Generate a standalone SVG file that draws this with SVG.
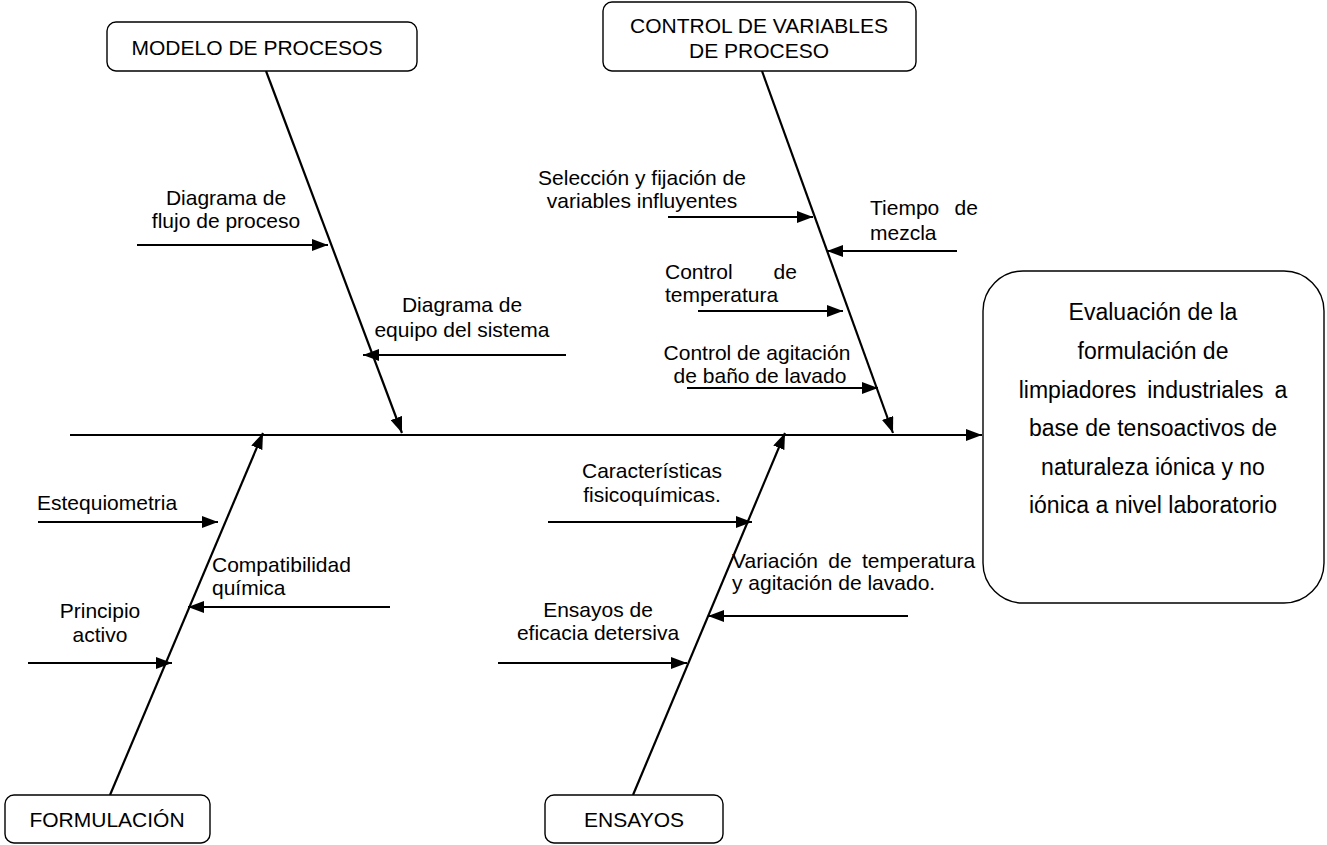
<svg xmlns="http://www.w3.org/2000/svg" width="1327" height="845" viewBox="0 0 1327 845">
  <defs>
    <style>
      text { font-family: "Liberation Sans", Arial, sans-serif; font-size: 21px; fill: #000; }
      .box { fill: #fff; stroke: #000; stroke-width: 1.4; }
      .bone { stroke: #000; stroke-width: 2.2; fill: none; }
      .mid { text-anchor: middle; }
      .effect text { font-size: 23px; }
    </style>
    <marker id="head" viewBox="0 0 16 12" refX="16" refY="6" markerWidth="16" markerHeight="12" markerUnits="userSpaceOnUse" orient="auto">
      <path d="M0,0 L16,6 L0,12 z" fill="#000"/>
    </marker>
  </defs>
  <rect width="1327" height="845" fill="#fff"/>

  <!-- spine, main bones and sub-cause arrows -->
  <g id="connectors" class="bone" marker-end="url(#head)">
    <line x1="70" y1="435" x2="982" y2="435"/>
    <line x1="266" y1="71" x2="402" y2="433"/>
    <line x1="762" y1="71" x2="893" y2="433"/>
    <line x1="110" y1="795" x2="263" y2="433"/>
    <line x1="633" y1="795" x2="785" y2="433"/>
    <!-- modelo de procesos -->
    <line x1="137" y1="245" x2="328" y2="245"/>
    <line x1="566" y1="355" x2="363" y2="355"/>
    <!-- control de variables -->
    <line x1="668" y1="217" x2="813" y2="217"/>
    <line x1="957" y1="251" x2="827" y2="251"/>
    <line x1="698" y1="311" x2="843" y2="311"/>
    <line x1="687" y1="388" x2="878" y2="388"/>
    <!-- formulación -->
    <line x1="38" y1="522" x2="218" y2="522"/>
    <line x1="390" y1="607" x2="188" y2="607"/>
    <line x1="28" y1="663" x2="172" y2="663"/>
    <!-- ensayos -->
    <line x1="548" y1="522" x2="752" y2="522"/>
    <line x1="908" y1="616" x2="708" y2="616"/>
    <line x1="498" y1="663" x2="687" y2="663"/>
  </g>

  <!-- category boxes -->
  <g id="modelo-procesos">
    <rect class="box" x="107" y="22" width="310" height="49" rx="9"/>
    <text class="mid" x="257" y="55">MODELO DE PROCESOS</text>
  </g>
  <g id="control-variables">
    <rect class="box" x="603" y="2" width="313" height="69" rx="9"/>
    <text class="mid" x="759" y="33">CONTROL DE VARIABLES</text>
    <text class="mid" x="759" y="58">DE PROCESO</text>
  </g>
  <g id="formulacion">
    <rect class="box" x="5" y="795" width="205" height="48" rx="9"/>
    <text class="mid" x="107" y="827">FORMULACIÓN</text>
  </g>
  <g id="ensayos">
    <rect class="box" x="545" y="795" width="178" height="48" rx="9"/>
    <text class="mid" x="634" y="827">ENSAYOS</text>
  </g>

  <!-- effect -->
  <g id="efecto" class="effect">
    <rect class="box" x="983" y="271" width="341" height="332" rx="40"/>
    <text class="mid" x="1153" y="320">Evaluación de la</text>
    <text class="mid" x="1153" y="359">formulación de</text>
    <text class="mid" x="1153" y="398" word-spacing="4.5">limpiadores industriales a</text>
    <text class="mid" x="1153" y="436">base de tensoactivos de</text>
    <text class="mid" x="1153" y="475">naturaleza iónica y no</text>
    <text class="mid" x="1153" y="513">iónica a nivel laboratorio</text>
  </g>

  <!-- cause labels -->
  <g id="causa-flujo">
    <text class="mid" x="226" y="205">Diagrama de</text>
    <text class="mid" x="226" y="228">flujo de proceso</text>
  </g>
  <g id="causa-equipo">
    <text class="mid" x="462" y="312">Diagrama de</text>
    <text class="mid" x="462" y="337">equipo del sistema</text>
  </g>
  <g id="causa-seleccion">
    <text class="mid" x="642" y="185">Selección y fijación de</text>
    <text class="mid" x="642" y="208">variables influyentes</text>
  </g>
  <g id="causa-tiempo">
    <text x="870" y="215"><tspan x="870">Tiempo</tspan><tspan x="954.6">de</tspan></text>
    <text x="870" y="240">mezcla</text>
  </g>
  <g id="causa-temperatura">
    <text x="665" y="279"><tspan x="665">Control</tspan><tspan x="773.6">de</tspan></text>
    <text x="665" y="302">temperatura</text>
  </g>
  <g id="causa-agitacion">
    <text class="mid" x="757" y="360">Control de agitación</text>
    <text class="mid" x="760" y="383">de baño de lavado</text>
  </g>
  <g id="causa-estequiometria">
    <text x="37" y="510">Estequiometria</text>
  </g>
  <g id="causa-compatibilidad">
    <text x="212" y="572">Compatibilidad</text>
    <text x="212" y="595">química</text>
  </g>
  <g id="causa-principio">
    <text class="mid" x="100" y="618">Principio</text>
    <text class="mid" x="100" y="642">activo</text>
  </g>
  <g id="causa-caracteristicas">
    <text class="mid" x="652" y="478">Características</text>
    <text class="mid" x="652" y="502">fisicoquímicas.</text>
  </g>
  <g id="causa-variacion">
    <text x="732" y="568" word-spacing="4.5">Variación de temperatura</text>
    <text x="732" y="590">y agitación de lavado.</text>
  </g>
  <g id="causa-eficacia">
    <text class="mid" x="598" y="617">Ensayos de</text>
    <text class="mid" x="598" y="640">eficacia detersiva</text>
  </g>
</svg>
